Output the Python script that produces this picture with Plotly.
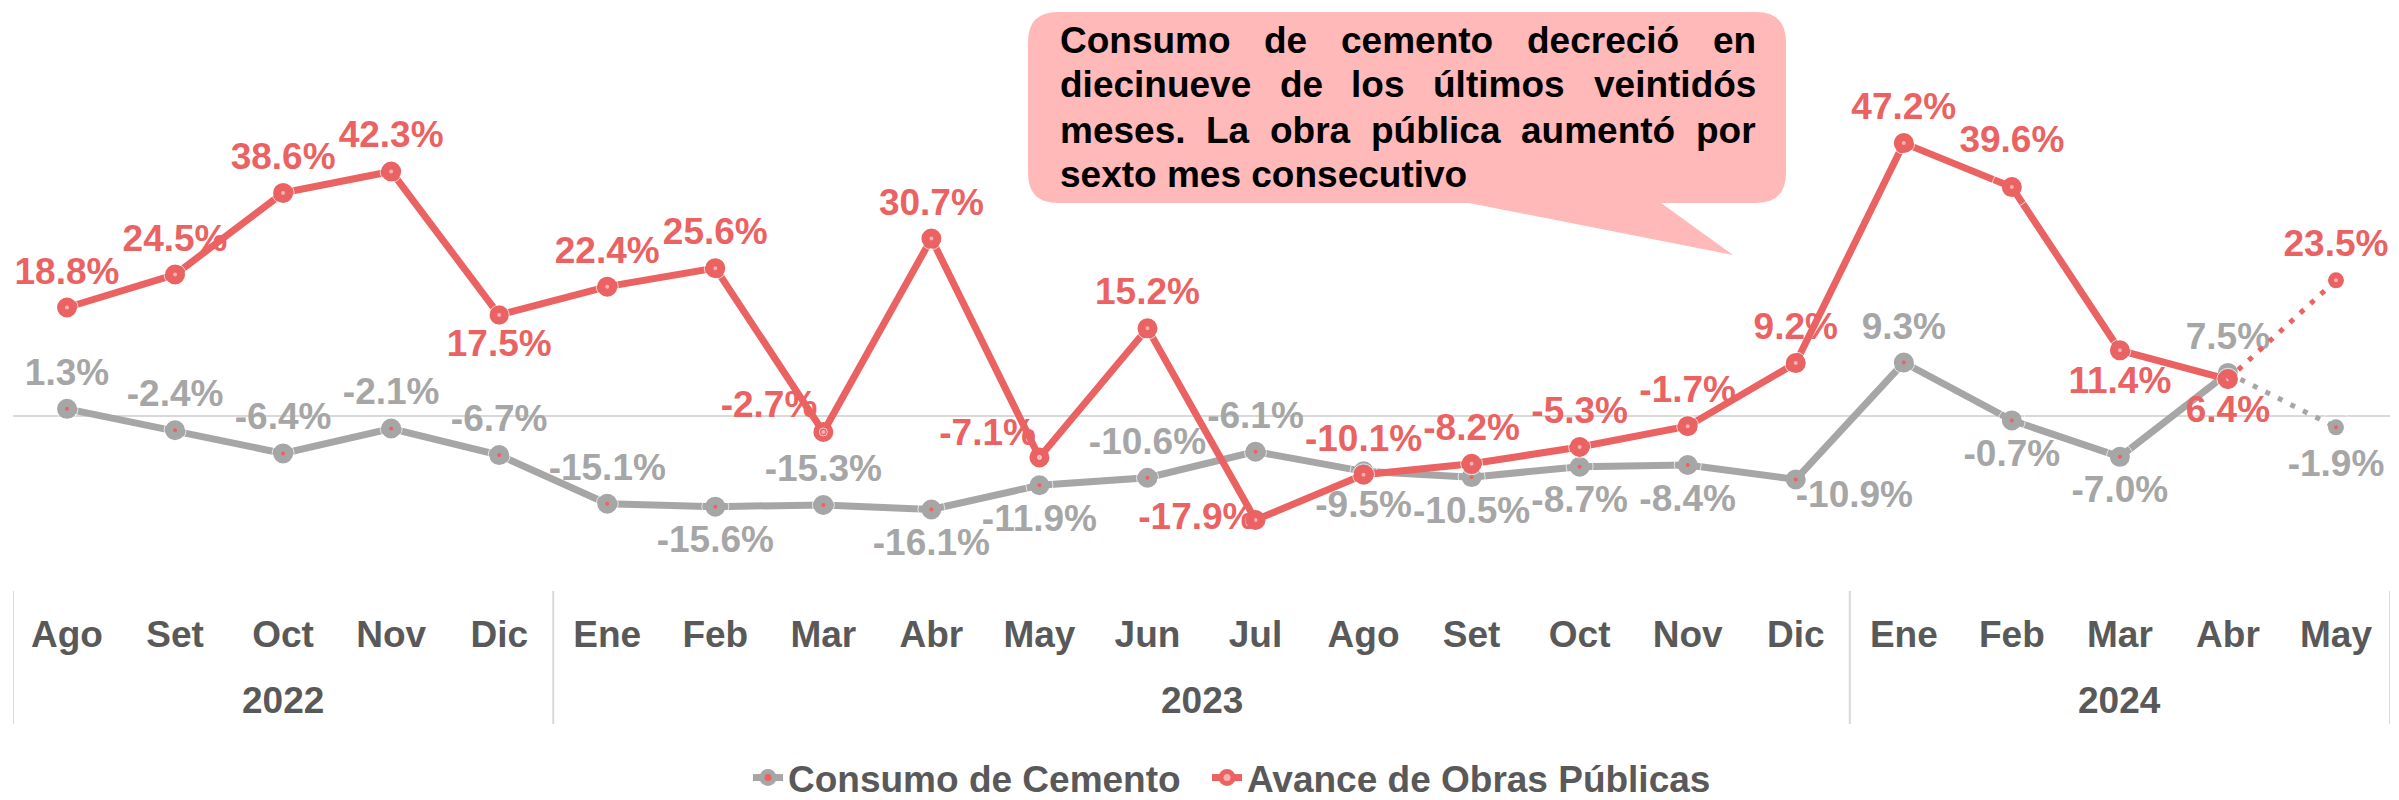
import plotly.graph_objects as go

# ---------------- data ----------------
months = ["Ago", "Set", "Oct", "Nov", "Dic",
          "Ene", "Feb", "Mar", "Abr", "May", "Jun", "Jul", "Ago", "Set", "Oct", "Nov", "Dic",
          "Ene", "Feb", "Mar", "Abr", "May"]
years = ["2022", "2023", "2024"]
year_counts = [5, 12, 5]

cemento = [1.3, -2.4, -6.4, -2.1, -6.7,
           -15.1, -15.6, -15.3, -16.1, -11.9, -10.6, -6.1, -9.5, -10.5, -8.7, -8.4, -10.9,
           9.3, -0.7, -7.0, 7.5, -1.9]
obras = [18.8, 24.5, 38.6, 42.3, 17.5,
         22.4, 25.6, -2.7, 30.7, -7.1, 15.2, -17.9, -10.1, -8.2, -5.3, -1.7, 9.2,
         47.2, 39.6, 11.4, 6.4, 23.5]

series_names = ["Consumo de Cemento", "Avance de Obras Públicas"]

callout_lines = [
    "Consumo de cemento decreció en",
    "diecinueve de los últimos veintidós",
    "meses. La obra pública aumentó por",
    "sexto mes consecutivo",
]

# ---------------- styles ----------------
GRAY = "#A6A6A6"
RED = "#EB6262"
PINK_DOT = "#F6B0B0"
TXT = "#595959"
FONT = "Arial, Liberation Sans, sans-serif"
FS = 37

T, B, TL, ML_, BR = "top center", "bottom center", "top left", "middle left", "bottom right"
pos_cem = [T, T, T, T, T, T, B, T, B, B, T, T, B, B, B, B, BR, T, B, B, T, B]
gap_cem = [22, 22, 22, 22, 22, 22, 27, 22, 27, 27, 22, 22, 27, 27, 27, 27, 0, 22, 27, 27, 22, 32]
pos_obr = [T, T, T, T, B, T, T, TL, T, TL, T, ML_, T, T, T, T, T, T, T, B, B, T]
gap_obr = [22, 22, 22, 22, 20, 22, 22, 8, 22, 4, 22, 0, 22, 22, 22, 22, 22, 22, 40, 22, 22, 22]

# page geometry (screen pixels); the page body adds an 8 px offset
SCR_W, SCR_H, OFF = 2399, 800, 8
W, H = SCR_W - OFF, SCR_H - OFF
PLOT_L, PLOT_R, PLOT_T, PLOT_B = 13, 2390, 69, 590   # plot area in screen pixels
ML, MR = PLOT_L - OFF, W - (PLOT_R - OFF)
MT, MB = PLOT_T - OFF, H - (PLOT_B - OFF)
PW, PH = PLOT_R - PLOT_L, PLOT_B - PLOT_T


def px(X):
    return (X - PLOT_L) / PW


def py(Y):
    return (PLOT_B - Y) / PH


n = len(months)
xs = list(range(n))
last = n - 1

fig = go.Figure()


def add_series(vals, name, color, dot, positions, gaps, legend_id):
    # solid part (all but last month)
    fig.add_trace(go.Scatter(
        x=xs[:last], y=vals[:last], name=name, mode="lines+markers", legend=legend_id,
        line=dict(color=color, width=7),
        marker=dict(size=12, color=dot, line=dict(color=color, width=8)),
        cliponaxis=False, hoverinfo="skip",
    ))
    # dotted projection to last month
    fig.add_trace(go.Scatter(
        x=xs[last - 1:], y=vals[last - 1:], mode="lines", showlegend=False,
        line=dict(color=color, width=5, dash="5px,9px"), hoverinfo="skip",
    ))
    fig.add_trace(go.Scatter(
        x=xs[last:], y=vals[last:], mode="markers", showlegend=False,
        marker=dict(size=10, color=dot, line=dict(color=color, width=6)),
        cliponaxis=False, hoverinfo="skip",
    ))
    # data labels
    fig.add_trace(go.Scatter(
        x=xs, y=vals, mode="markers+text", showlegend=False,
        marker=dict(size=gaps, color="rgba(0,0,0,0)"),
        text=[f"{v:.1f}%" for v in vals],
        textposition=positions,
        textfont=dict(family=FONT, size=FS, color=color, weight="bold"),
        cliponaxis=False, hoverinfo="skip",
    ))


add_series(cemento, series_names[0], GRAY, RED, pos_cem, gap_cem, "legend")
add_series(obras, series_names[1], RED, PINK_DOT, pos_obr, gap_obr, "legend2")

shapes = []
annotations = []

# category table dividers
bounds = [-0.5]
acc = -0.5
for c in year_counts:
    acc += c
    bounds.append(acc)
for b in bounds:
    shapes.append(dict(type="line", xref="x", yref="paper", x0=b, x1=b,
                       y0=py(591), y1=py(724), line=dict(color="#D9D9D9", width=2)))

# year labels
start = 0
for yr, c in zip(years, year_counts):
    annotations.append(dict(x=start + (c - 1) / 2, y=py(700), xref="x", yref="paper",
                            text=yr, showarrow=False, xanchor="center", yanchor="middle",
                            font=dict(family=FONT, size=FS, color=TXT, weight="bold")))
    start += c

# callout bubble
x0, x1, y0, y1, r = 1028, 1786, 12, 203, 30
pts = [
    ("M", x0 + r, y0), ("L", x1 - r, y0), ("Q", x1, y0, x1, y0 + r),
    ("L", x1, y1 - r), ("Q", x1, y1, x1 - r, y1),
    ("L", 1661, y1), ("L", 1733, 255), ("L", 1469, y1),
    ("L", x0 + r, y1), ("Q", x0, y1, x0, y1 - r),
    ("L", x0, y0 + r), ("Q", x0, y0, x0 + r, y0),
]
path = ""
for p in pts:
    cmd, coords = p[0], p[1:]
    xy = []
    for i in range(0, len(coords), 2):
        xy.append(f"{px(coords[i]):.5f},{py(coords[i + 1]):.5f}")
    path += cmd + " " + " ".join(xy) + " "
path += "Z"
shapes.append(dict(type="path", xref="paper", yref="paper", path=path,
                   fillcolor="#FFB9B9", line=dict(width=0), layer="below"))

# justified callout text (Arial Bold advance widths / 1000)
AW = {" ": 278, ".": 278, "a": 556, "b": 611, "c": 556, "d": 611, "e": 556, "f": 333,
      "g": 611, "h": 611, "i": 278, "j": 278, "k": 556, "l": 278, "m": 889, "n": 611,
      "o": 611, "p": 611, "q": 611, "r": 389, "s": 556, "t": 333, "u": 611, "v": 556,
      "w": 778, "x": 556, "y": 556, "z": 500, "C": 722, "L": 611, "á": 556, "é": 556,
      "í": 278, "ó": 611, "ú": 611}


def tw(s, size):
    return sum(AW.get(ch, 556) for ch in s) * size / 1000.0


TX0, TX1 = 1059, 1755
line_centers = [40, 85, 130, 174]
cfont = dict(family=FONT, size=FS, color="#000000", weight="bold")
for li, (ln, yc) in enumerate(zip(callout_lines, line_centers)):
    if li == len(callout_lines) - 1:
        annotations.append(dict(x=px(TX0), y=py(yc), xref="paper", yref="paper", text=ln,
                                showarrow=False, xanchor="left", yanchor="middle",
                                font=cfont, borderpad=0))
        continue
    words = ln.split(" ")
    total = sum(tw(w_, FS) for w_ in words)
    gap = (TX1 - TX0 - total) / (len(words) - 1)
    xcur = TX0
    for w_ in words:
        annotations.append(dict(x=px(xcur), y=py(yc), xref="paper", yref="paper", text=w_,
                                showarrow=False, xanchor="left", yanchor="middle",
                                font=cfont, borderpad=0))
        xcur += tw(w_, FS) + gap

legend_style = dict(orientation="h", xanchor="left", y=py(778), yanchor="middle",
                    font=dict(family=FONT, size=FS, color=TXT, weight="bold"),
                    itemwidth=30, bgcolor="rgba(0,0,0,0)")

fig.update_layout(
    width=W, height=H,
    margin=dict(l=ML, r=MR, t=MT, b=MB, autoexpand=False),
    paper_bgcolor="white", plot_bgcolor="white",
    showlegend=True,
    legend=dict(x=px(748), **legend_style),
    legend2=dict(x=px(1207), **legend_style),
    xaxis=dict(range=[-0.5, n - 0.5], tickmode="array", tickvals=xs, ticktext=months,
               tickfont=dict(family=FONT, size=FS, color=TXT, weight="bold"),
               ticks="", showgrid=False, zeroline=False, showline=False,
               ticklabelstandoff=19, automargin=False, fixedrange=True),
    yaxis=dict(range=[-30, 60], showticklabels=False, showgrid=False, automargin=False,
               zeroline=True, zerolinecolor="#D9D9D9", zerolinewidth=2, fixedrange=True),
    shapes=shapes,
    annotations=annotations,
)

fig.write_html("out.html")
